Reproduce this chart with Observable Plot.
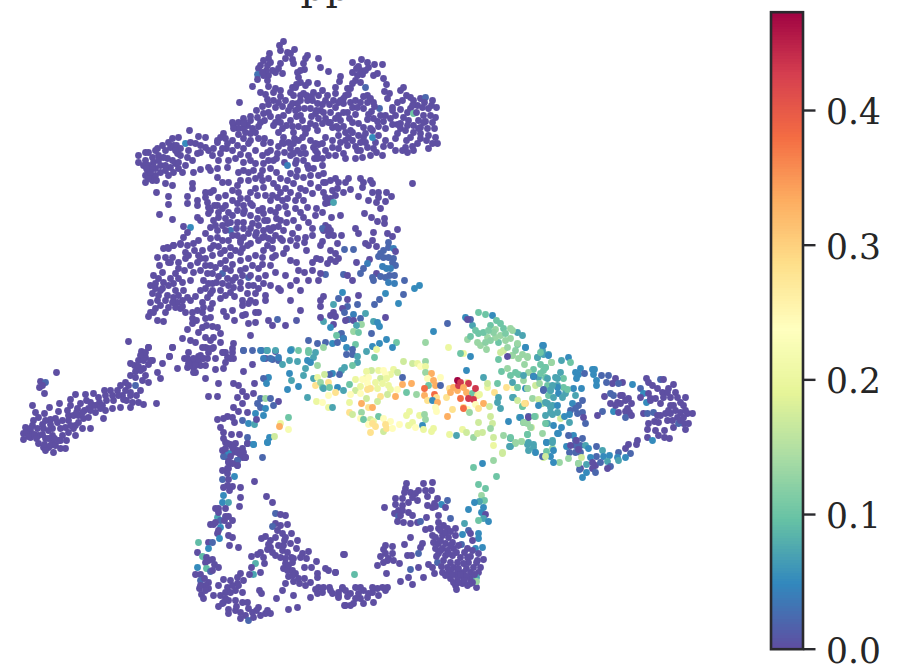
<!DOCTYPE html>
<html><head><meta charset="utf-8">
<script src="https://cdn.jsdelivr.net/npm/d3@7"></script>
<script src="https://cdn.jsdelivr.net/npm/@observablehq/plot@0.6"></script>
<style>html,body{margin:0;padding:0;background:#fff}#c{position:relative;width:901px;height:670px;overflow:hidden}</style>
</head><body><div id="c"></div>
<script>
// Each embedding point: [x, y, expression]; a missing third value is 0.
const topLobe=[[283,41],[279,45],[280,50],[287,52],[294,49],[290,53],[292,59],[293,63],[269,53],[268,58],[263,60],[260,65],[258,68],[267,65],[280,63],[278,68],[275,72],[282,73],[268,75],[263,75],[257,74,.03],[257,79],[267,80],[268,86],[252,86],[275,88],[280,90],[273,92],[260,92],[265,94],[267,99],[273,100],[280,96],[239,102],[307,55],[305,58],[303,63],[304,69],[318,58],[320,67],[328,71],[297,72],[298,77],[300,82],[308,82],[305,85],[317,83],[292,87],[295,87],[303,93],[293,95],[313,92],[322,90],[327,95],[335,87],[335,93],[340,76],[339,81],[352,62],[361,59],[367,62],[374,64],[382,64],[368,67],[360,70],[357,75],[355,80],[360,82],[352,83],[373,75],[377,73],[383,78],[386,84],[365,87,.02],[347,88],[345,95],[343,98],[367,95],[363,96],[384,91],[389,93],[403,87],[400,90],[387,98],[397,102],[406,95],[410,97],[413,100],[420,98],[425,97,.02],[432,100],[436,107],[417,105],[410,108],[422,107],[428,108],[400,109],[407,112],[423,115],[430,115],[435,117],[403,117],[400,123],[397,124],[392,124],[408,120],[418,120],[432,122],[420,127],[427,128],[400,128],[397,133],[405,130],[413,132],[420,133],[428,135],[435,137],[437,143],[432,143],[428,148],[420,138],[417,143],[412,146],[405,147],[402,150],[407,152],[413,150],[390,145],[395,150],[385,140],[375,142],[373,148],[413,113,.1],[300,100],[307,100],[312,100],[317,103],[297,103],[292,103],[320,110],[325,118],[333,100],[338,102],[335,107],[343,103],[350,102],[352,107],[347,112],[357,107],[363,108],[371,111],[379,108,.02],[367,102],[373,102],[392,107],[392,110],[282,106],[275,107],[288,110],[295,110],[300,115],[302,120],[315,113],[318,118],[268,112],[263,113],[283,115],[278,117],[275,122],[273,125],[286,125],[282,128],[278,132],[257,117],[260,122],[243,118],[250,120],[247,125],[233,125],[238,128],[243,128],[250,133],[255,132],[233,128],[223,133],[220,137],[225,138],[217,142],[310,123],[315,125],[307,128],[305,133],[302,137],[322,123],[328,122],[332,127],[317,130],[293,132],[283,137],[294,138],[288,142],[282,142],[338,115],[340,120],[343,126],[350,130],[358,123],[363,127],[367,119],[377,121],[383,121],[378,126],[372,130],[372,137,.05],[363,137],[360,142],[338,135],[332,140],[325,137],[318,144],[310,140],[313,147],[303,147],[298,140],[293,143],[290,148],[340,142],[345,140],[348,137],[352,132],[347,145],[338,148],[332,147],[325,150],[317,153],[367,147],[357,150],[360,150],[343,153]];
const topFill=[[272,70],[270,62],[285,58],[266,70],[262,72],[300,70],[296,84],[290,92],[300,95],[306,95],[311,96],[318,95],[325,100],[329,104],[322,104],[316,110],[310,108],[304,108],[298,108],[290,106],[285,100],[278,102],[268,104],[262,106],[256,110],[250,116],[244,122],[238,122],[232,122],[238,134],[245,132],[252,128],[258,126],[264,120],[270,116],[280,122],[290,120],[296,116],[292,126],[298,126],[304,128],[311,116],[323,112],[330,112],[335,118],[330,122],[336,126],[343,112],[349,118],[355,114],[352,122],[345,132],[338,128],[358,66],[362,74],[365,70],[356,68],[352,72],[350,88],[348,94],[340,100],[355,100],[360,102],[370,98],[374,106],[380,115],[368,114],[373,118],[385,115],[395,115],[390,118],[402,100],[412,105],[416,112],[424,102],[431,105],[425,121],[413,125],[407,125],[423,122],[434,128],[426,140],[418,128],[410,137],[406,140],[395,138],[385,128],[378,135],[370,128],[365,133],[358,135],[352,140],[355,146],[365,142],[383,146],[376,152],[382,155],[370,155],[362,157],[355,158],[345,158],[335,155],[328,155],[322,158],[314,158],[305,153],[297,150],[290,155],[284,152],[278,146],[270,142],[264,138],[258,138],[250,140],[243,138],[232,140],[226,148],[232,150],[240,154],[248,155],[255,150],[262,155],[270,150],[276,158],[284,162],[296,160],[307,165],[315,150]];
const leftLobe=[[138,155],[145,152],[148,152],[138,162],[145,160],[152,157],[157,148],[162,145],[165,150],[172,138],[178,137],[170,147],[173,145],[158,155],[153,162],[155,168],[147,170],[145,175],[150,175],[152,180],[145,182],[155,175],[156,192],[165,183],[172,185],[168,175],[172,160],[167,158],[163,157],[177,153],[180,155],[170,167],[175,163],[178,162],[178,168],[185,165],[193,172],[200,169],[189,130],[198,136],[205,137],[185,143,.05],[190,142],[195,143],[200,152],[205,147],[208,150],[197,153],[187,157],[192,160],[192,183],[192,188],[205,192],[205,197],[187,196],[187,203],[197,200],[197,205],[168,196],[168,204],[159,214],[172,219],[183,226],[190,227,.05],[187,232],[183,237],[197,217],[200,220],[198,240],[193,243],[187,245],[180,243],[173,245],[167,247],[208,207],[208,213],[210,192],[207,202],[213,190],[218,197],[225,195],[217,205],[222,208],[218,217],[225,218],[213,220],[210,227],[217,230],[227,223],[205,233],[210,238],[217,237],[222,240],[230,230,.03],[232,235],[237,235],[243,237],[248,233],[240,242],[250,243],[262,237],[255,235],[272,240],[275,235],[280,238],[270,230],[263,230],[258,225],[252,223],[243,222],[237,222],[232,215],[237,210],[243,213],[250,215],[257,218],[263,213],[270,210],[243,205],[237,203],[247,198],[232,200],[250,203],[262,208],[278,207],[282,200],[277,197],[272,195],[263,187],[257,195],[238,192],[237,185],[228,182],[222,182],[217,177],[238,172],[243,170],[248,172],[253,170],[260,175],[263,163],[268,160],[255,163],[273,160],[287,165,.04],[277,187],[273,183],[280,178],[287,180],[293,183],[290,173],[297,170],[303,177],[310,183],[298,195],[303,200],[312,193],[318,187],[325,182],[313,168],[322,165],[317,158],[303,160],[300,153],[293,153],[315,143],[322,143],[283,143],[277,153],[267,152],[263,143],[248,143],[243,148],[237,145],[227,143],[217,140],[222,148],[220,153],[213,148],[208,167],[210,170],[217,168],[227,167],[243,123],[280,220],[287,213],[293,220],[303,217],[298,227],[305,237],[312,235],[322,228,.02],[327,230],[287,198],[295,200],[307,207],[267,220],[273,227],[283,230],[292,233],[297,238]];
const leftFill=[[143,165],[148,165],[152,168],[148,178],[156,180],[160,165],[160,172],[165,165],[150,172],[146,168],[155,150],[168,142],[176,145],[180,148],[175,150],[158,160],[165,170],[173,172],[182,172],[188,150],[200,145],[212,155],[218,160],[228,160],[235,158],[243,162],[250,160],[262,170],[270,168],[276,172],[268,178],[262,180],[255,178],[248,180],[240,180],[232,190],[225,205],[228,212],[218,212],[214,205],[210,210],[225,230],[236,228],[243,228],[250,228],[256,232],[264,220],[258,210],[252,205],[244,210],[230,222],[222,225],[215,225],[240,198],[250,192],[255,188],[265,195],[270,200],[280,192],[285,188],[290,192],[300,188],[305,190],[296,176],[310,175],[318,175],[308,168],[295,163],[275,212],[285,206],[295,208],[300,212],[286,222],[276,218],[268,228],[278,226],[264,236],[272,248],[282,240],[290,240],[286,248],[296,245],[304,242],[312,228],[315,215],[308,222],[316,208],[322,212]];
const midBody=[[163,248],[168,248],[173,245],[180,244],[157,257],[159,265],[165,257],[172,257],[178,262],[185,252],[185,258],[197,262],[198,255],[202,250],[212,255],[205,265],[210,265],[215,267],[220,263],[225,260],[230,255],[230,247],[220,253],[240,260],[242,248],[247,245],[255,255],[262,257],[263,250],[270,265],[272,257],[275,255],[267,245],[200,270],[193,272],[207,273],[212,273],[203,280],[208,283],[222,273,.02],[230,270],[245,268],[258,268],[265,275],[248,277,.02],[242,275],[235,277],[227,278],[222,283],[212,283],[228,285],[233,287],[240,288],[248,285],[253,285],[258,288],[263,283],[265,295],[265,300],[255,293],[247,293],[230,292],[225,295],[220,298],[210,293],[207,297],[202,302],[212,303],[203,307],[197,310],[192,312],[192,318],[192,323],[187,329],[182,338],[190,340],[195,342],[202,327],[210,317],[212,326],[217,327],[205,337],[213,337],[220,333],[210,340],[202,347],[208,348],[220,342],[213,347],[232,348],[225,352],[230,358],[232,310],[223,311],[226,316],[234,320],[242,315],[245,314],[242,305],[248,303],[255,312],[258,312],[255,322],[248,323],[250,335],[268,320],[277,319,.02],[153,275],[158,278],[150,285],[155,283],[163,282],[162,288],[152,293],[158,295],[157,300],[150,302],[167,295],[168,307],[150,312],[153,312],[148,316],[157,320],[163,321],[175,273],[178,278],[182,282],[173,283],[175,290],[183,290],[190,280],[187,297],[182,300],[177,302],[180,308],[175,307],[173,297],[148,347],[145,352],[140,355],[143,360],[150,360],[172,347],[169,356],[187,358],[193,358],[198,362],[188,363],[195,365],[203,358],[205,365],[222,352],[243,350,.02],[252,350,.02],[260,350,.04],[267,350,.07],[275,350,.07],[263,358,.04],[270,358,.03],[278,357,.04],[290,350,.05],[308,352,.1],[296,320,.01],[300,310],[285,325],[272,325],[290,300],[280,290],[300,290],[312,270],[308,280],[285,275],[296,262],[306,250],[320,245],[316,258]];
const midFill=[[200,258],[205,258],[210,248],[218,246],[224,250],[235,250],[240,252],[225,268],[232,264],[240,270],[248,258],[252,265],[262,264],[250,275],[258,278],[240,282],[232,280],[218,276],[216,282],[205,288],[212,290],[220,290],[234,296],[242,300],[250,300],[255,302],[200,290],[195,296],[190,300],[202,312],[210,308],[205,318],[196,320],[198,332],[206,325],[168,262],[162,272],[170,278],[168,285],[160,290],[155,288],[165,300],[172,302],[178,295],[182,306],[185,312],[160,305],[155,308],[165,312],[170,262],[184,270],[178,268],[190,265],[258,240],[268,238],[240,240],[228,240],[213,245],[194,250],[188,255],[296,280],[304,272],[312,262],[318,280],[298,270],[290,260],[283,253],[275,272],[278,288],[270,285],[290,285]];
const upperRight=[[323,173],[323,182],[330,180],[335,178],[338,182],[345,182],[348,178],[360,178],[363,182],[370,180],[372,183],[362,187],[412,183],[323,192],[332,190],[337,188],[343,192],[350,189],[335,195],[325,197],[330,198],[325,203],[328,202],[333,202,.07],[358,196],[372,192],[378,192],[386,192],[391,196],[378,197],[368,200],[376,202],[385,201],[380,208],[364,213],[371,217],[377,221],[384,218],[384,223],[331,217],[340,215],[325,225],[328,227],[323,230],[330,230],[328,235],[333,235],[341,235],[355,228],[358,233],[373,232],[397,229],[387,233],[392,236],[337,243],[322,241],[365,243],[372,240],[368,245],[376,246],[388,242,.02],[388,247,.02],[393,248,.04],[383,250,.02],[395,251],[330,250],[335,253],[344,249,.02],[353,249,.02],[380,253,.02],[378,256,.02],[383,257,.02],[388,257,.02],[393,258,.02],[392,262,.02],[330,259],[338,258],[335,261],[327,263],[320,259],[369,259],[367,263,.04],[356,262],[395,265,.02],[363,268,.02],[382,266,.04],[386,268,.04],[390,268,.04],[360,273,.02],[376,273],[389,275,.02],[394,275,.02],[380,276,.02],[385,277,.02],[372,277,.02],[373,280,.02],[388,282,.04],[394,283,.04],[404,280,.02],[419,285,.05],[414,288,.05],[403,294,.02],[385,293,.05],[379,299,.02],[374,304,.02],[398,303,.05],[325,274,.02],[320,273],[343,274,.02],[347,275],[352,280],[358,295],[342,292,.05],[338,298,.02],[347,299],[323,296],[320,300],[357,304,.02],[333,304,.07],[347,306,.02],[342,308],[320,306],[333,312],[330,315],[344,312,.02],[353,314,.04],[365,313,.07],[360,318,.02],[348,319,.02],[353,320],[345,320],[335,316],[373,321,.07],[385,317],[377,322,.05],[379,326,.05],[333,324],[330,327,.05],[323,321,.07],[320,317],[361,324,.13],[356,325,.07],[353,331,.13],[358,332,.1],[371,333,.02],[341,333,.02],[336,335,.1],[343,338,.04]];
const centre=[[425,342,.13],[448,347,.2],[433,331,.05],[447,323,.02],[396,342,.1],[392,347,.05],[386,339,.05],[379,343,.05],[372,346,.05],[376,349,.2],[366,351,.07],[374,357,.1],[355,344,.1],[346,347,.05],[352,349,.02],[352,354,.02],[346,354,.02],[357,356,.07],[357,362,.07],[352,365,.1],[344,367,.07],[341,370,.07],[339,374,.02],[332,373,.05],[329,374,.02],[332,343,.05],[337,342,.02],[340,334,.02],[343,338,.02],[325,342,.02],[317,343,.02],[308,340,.02],[308,350,.1],[315,352,.07],[313,357,.07],[307,360,.05],[310,362,.05],[305,368,.07],[317,365,.13],[323,347,.13],[303,375,.07],[313,378,.07],[324,374,.17],[317,377,.2],[315,385,.28],[320,382,.13],[322,387,.1],[323,388,.07],[328,382,.28],[329,387,.1],[328,395,.24],[337,387,.05],[343,390,.07],[335,392,.28],[307,397,.07],[316,401,.2],[322,402,.24],[328,407,.2],[332,407,.07],[349,384,.1],[355,379,.2],[365,378,.2],[371,370,.17],[366,371,.2],[378,370,.2],[383,370,.24],[393,369,.2],[397,372,.17],[403,361,.17],[412,363,.17],[417,363,.2],[420,366,.24],[425,361,.13],[425,366,.2],[425,372,.13],[402,377,.02],[390,374,.2],[385,374,.24],[380,378,.17],[375,382,.2],[386,378,.2],[368,377,.24],[362,379,.24],[355,390,.17],[360,386,.2],[350,394,.24],[367,383,.24],[370,388,.28],[367,389,.28],[377,388,.2],[382,383,.2],[388,385,.2],[390,389,.2],[397,389,.24],[360,393,.24],[366,398,.17],[380,396,.28],[387,394,.17],[395,396,.33],[402,384,.33],[406,392,.1],[411,383,.33],[416,394,.13],[377,401,.17],[349,402,.2],[361,403,.33],[368,407,.28],[372,407,.33],[349,412,.28],[352,414,.17],[361,412,.13],[360,418,.24],[363,419,.1],[370,419,.17],[378,416,.1],[373,421,.2],[383,418,.24],[390,421,.24],[368,424,.24],[375,426,.28],[372,423,.28],[385,424,.28],[383,431,.17],[386,428,.28],[370,432,.28],[392,428,.24],[399,424,.24],[406,415,.2],[409,411,.2],[408,425,.2],[412,422,.2],[419,415,.2],[424,414,.13],[425,419,.13],[422,425,.05],[415,427,.24],[423,429,.2],[431,431,.2],[433,428,.2],[449,434,.2],[456,435,.07],[462,429,.2],[466,432,.17],[473,437,.13],[431,373,.33],[427,378,.24],[433,380,.33],[440,377,.24],[428,385,.1],[424,388,.38],[435,385,.33],[440,385,.02],[424,395,.33],[427,400,.28],[434,394,.38],[436,397,.28],[432,400,.05],[437,402,.33],[435,407,.24],[436,411,.24],[447,416,.33],[452,409,.28],[446,397,.28],[449,388,.28],[453,387,.33],[450,392,.33],[457,390,.33],[458,385,.43],[457,380,.47],[460,382,.43],[467,382,.2],[468,383,.43],[463,387,.33],[466,392,.33],[460,398,.38],[472,393,.1],[475,388,.43],[477,395,.28],[468,398,.43],[473,399,.43],[479,394,.2],[475,404,.24],[483,403,.33],[463,407,.28],[467,409,.24],[463,408,.38],[478,408,.28],[469,412,.13],[489,406,.17],[487,387,.2],[487,383,.17],[483,377,.07],[466,370,.05],[463,353,.2],[460,353,.1],[470,356,.05],[497,383,.1],[494,392,.28],[506,387,.28],[513,387,.24],[517,387,.1],[527,388,.13],[512,382,.07],[510,375,.1],[501,371,.1],[507,368,.13],[518,374,.1],[523,375,.07],[533,376,.05],[540,373,.1],[545,367,.1],[551,362,.13],[537,357,.07],[540,352,.1],[548,355,.05],[543,345,.05],[527,356,.13],[518,358,.13],[512,355,.13],[507,356],[500,352,.17],[503,350,.17],[498,359,.1],[486,349,.13],[525,347,.05],[517,343,.13],[510,338,.13],[507,347,.13],[498,342,.1],[487,337,.13],[477,342,.13],[467,339,.13],[470,336,.1],[478,333,.1],[483,332,.1],[490,325,.1],[495,329,.13],[500,335,.13],[503,328,.1],[510,328,.13],[517,332,.07],[522,335,.07],[500,323,.1],[492,315,.05],[485,314,.1],[478,312,.1],[472,325,.07],[470,319,.02],[465,317,.05],[467,319],[490,416,.17],[492,423,.17],[478,422,.17],[482,432,.17],[477,433,.17],[490,428,.13],[493,437,.17],[493,445,.2],[502,452,.17],[508,421,.05],[500,408,.07],[497,402,.07],[498,397,.07],[512,397,.07],[517,400,.17],[522,406,.1],[524,403,.28],[520,417,.05],[528,417],[534,416,.1],[523,422,.13],[530,427,.13],[527,434,.1],[503,435,.13],[510,437,.1],[515,442,.13],[509,446,.07],[521,441,.13],[528,442,.07],[533,447,.07],[535,452,.05],[545,456,.17],[546,442,.05],[552,442,.07],[553,450,.05],[558,433,.05],[545,423,.1],[538,405,.05],[545,402,.07],[550,407,.07],[557,405,.05],[543,389,.02],[550,390,.07],[557,387,.05],[547,378,.07],[557,378,.07],[552,385,.07],[512,330,.13],[495,337,.13],[490,340,.12],[480,345,.13],[485,342,.12],[505,340,.13],[515,350,.12],[493,332,.12],[505,333,.11],[475,330,.1],[496,320,.1],[488,330,.11]];
const rightWing=[[517,344,.1],[525,347,.07],[542,345,.05],[542,350,.07],[548,354,.07],[543,354,.07],[522,354,.13],[527,357,.13],[512,355,.17],[537,357,.1],[568,357,.05],[561,360,.07],[570,362,.1],[524,364,.13],[540,364,.1],[545,367,.1],[551,362,.13],[560,372,.07],[543,370,.1],[533,369,.1],[528,372,.13],[575,372,.05],[580,368,.05],[578,374,.05],[584,373,.02],[592,369,.05],[594,369,.05],[593,374,.05],[601,375,.02],[608,375,.02],[615,378],[612,383],[606,382,.02],[622,382],[618,383,.02],[632,384,.05],[596,380,.05],[596,385,.05],[576,378,.05],[563,378,.1],[555,377,.07],[545,377,.1],[538,377,.07],[533,376],[523,380,.13],[515,372,.1],[517,387,.13],[525,388,.05],[527,388,.13],[535,385,.17],[539,383,.13],[547,385,.1],[543,390,.02],[550,390,.07],[557,385,.07],[563,387,.1],[558,393,.05],[565,393,.07],[573,388,.05],[581,388,.05],[567,389,.1],[575,395,.07],[548,395,.1],[553,397,.07],[562,397,.07],[532,398,.13],[538,399,.17],[542,403,.13],[513,397,.07],[525,403,.3],[522,406,.13],[547,403,.07],[552,405,.07],[572,403,.05],[582,400,.02],[578,405,.02],[575,408,.02],[570,410,.02],[582,412,.02],[577,413,.02],[583,417],[585,423,.02],[604,396],[610,393,.02],[613,395,.02],[610,403],[617,402],[620,403],[622,395],[628,398],[625,400],[631,403],[627,408],[613,411,.05],[618,412],[625,411],[629,412],[625,417,.02],[631,415],[602,411,.02],[597,415],[646,378],[648,382],[640,388,.02],[652,385],[660,379,.02],[663,379],[673,384],[668,388],[643,393,.05],[648,393],[640,397],[646,402,.05],[650,398],[657,388],[662,392],[667,392],[675,392],[663,397],[660,403],[670,397],[677,397],[685,397],[673,405],[680,402],[683,405],[643,413],[647,413,.02],[653,412,.02],[657,415],[665,413],[670,413],[680,412],[687,413],[692,413],[683,417],[677,417],[654,421],[658,422],[667,420],[648,423],[647,429],[673,427],[683,423],[688,423],[685,429],[678,423,.02],[658,435],[664,437],[669,438],[647,437],[652,440,.05],[637,440],[636,444],[628,444],[625,448],[630,453,.02],[625,457,.05],[618,452,.02],[617,457,.05],[618,460,.07],[609,455,.05],[602,450,.07],[603,456,.05],[607,461,.07],[596,456,.02],[596,446,.02],[590,457,.05],[610,466,.02],[607,468],[595,465],[592,468],[595,472,.02],[586,464,.07],[578,463,.1],[580,468],[586,472,.05],[579,469,.02],[582,477,.05],[573,435,.05],[568,435,.02],[575,440,.02],[582,438,.02],[566,446,.05],[575,445,.02],[580,445,.02],[585,445,.07],[588,448,.05],[569,452,.02],[575,452,.02],[580,452,.02],[581,457,.17],[578,463,.13],[568,458,.13],[559,462,.13],[553,462,.05],[550,456,.05],[543,457,.17],[542,456,.02],[546,451,.1],[552,448,.13],[546,442,.05],[552,440,.07],[557,433,.05],[561,427,.05],[553,425,.05],[542,433,.13],[547,423,.07],[552,414,.07],[560,418,.17],[569,422,.07],[569,414,.05],[564,416,.05],[557,412,.07],[550,412,.07],[545,415,.07],[535,416,.13],[528,416,.02],[519,417,.07],[523,422,.07],[527,423,.13],[531,427,.17],[527,434,.1],[521,441,.17],[515,443,.13],[527,444,.07],[533,444,.07],[528,450,.07],[535,452,.13],[510,438,.07],[510,446,.07],[650,400],[655,398],[670,405],[668,410],[675,410],[685,410],[680,420],[660,415],[672,420],[664,430],[655,430],[620,395],[615,405],[592,462],[600,462,.02],[576,440],[570,445],[578,449]];
const leftTail=[[56,372],[40,381],[45,382,.02],[39,387],[44,393],[42,385],[32,405],[35,412],[44,413],[49,407],[59,403],[70,399],[75,394],[85,394],[93,393],[104,390],[110,390],[117,390],[122,395],[80,403],[90,402],[98,397],[99,402],[92,405],[88,408],[77,408],[67,410],[58,411],[55,418],[50,419],[45,420],[38,417],[33,420],[32,425],[25,427],[23,433],[23,439],[30,431],[30,437],[37,428],[43,428],[38,435],[45,438],[52,428],[52,435],[60,428],[65,427],[62,435],[68,432],[73,428],[82,428],[90,428],[75,435],[38,443],[43,447],[48,447],[53,452],[60,448],[65,448],[60,440],[52,442],[45,450],[68,415],[68,420],[73,415],[78,422],[83,418],[88,417],[95,412],[103,418],[105,410],[112,408],[120,407],[113,400],[120,385],[125,382],[130,375],[135,377],[142,380],[148,382],[135,385,.02],[140,390],[130,392],[130,395],[123,399],[132,402],[138,402],[143,404],[130,407],[156,403],[128,341],[148,347],[141,351],[145,357],[138,360],[130,363],[134,365],[138,366],[143,368],[148,364],[152,360],[162,363],[157,372],[160,378],[169,356],[172,347],[177,368],[184,358],[190,360],[187,367],[193,367],[195,372],[200,365],[207,358],[202,358],[215,369],[223,368],[212,348],[205,347],[223,352],[233,343],[232,352],[227,357],[233,358],[225,362],[243,350,.02],[252,364],[243,371],[261,350,.02],[265,358],[266,350,.07],[275,351],[272,359,.02],[278,360,.02],[282,364,.07],[289,360,.07],[297,361,.07],[298,350,.1],[291,349,.07],[289,373,.05],[291,380,.07],[298,386,.05],[287,389,.05],[205,378],[218,383],[208,396],[217,396],[233,383],[238,385],[254,383],[268,377,.05],[263,378,.02],[266,383,.05],[242,391],[246,396],[253,393],[237,397],[242,403],[260,398,.02],[265,398,.13],[270,398,.02],[278,401],[273,405,.02],[257,403,.02],[260,407,.02],[265,408,.05],[255,413,.05],[263,415,.05],[233,407],[238,411],[247,412],[227,416],[217,419],[223,418],[232,417],[234,422],[242,420,.02],[248,423,.05],[254,424,.07],[256,419],[220,427],[223,432],[231,434],[239,434],[223,438],[225,442],[230,444],[233,447],[247,437,.02],[247,443,.02],[253,444,.05],[237,450],[242,448],[232,452],[225,456,.02],[228,453,.05],[228,462],[237,460,.02],[242,457],[245,457],[262,457,.02],[237,465],[228,468],[267,442,.05],[269,437,.05],[274,436,.17],[280,423,.2],[279,426,.33],[288,429,.22],[288,417,.1],[26,432],[28,436],[34,434],[36,438],[30,428],[42,434],[48,438],[44,444],[50,445],[55,445],[48,430],[42,424],[50,424],[57,422],[62,420],[58,440],[54,438],[66,440],[70,425],[75,425],[78,415],[84,410],[90,410],[95,405],[102,405],[106,400],[100,408],[82,412],[76,412],[70,405],[86,400],[112,395],[105,395],[118,395],[125,390],[128,385],[126,400],[136,395],[140,370],[145,375],[135,371],[190,365],[193,372],[198,356],[188,352],[200,355],[195,360],[208,352],[215,358]];
const bottomLeft=[[227,443],[235,443],[232,447],[247,443],[253,444,.05],[267,442,.05],[227,454,.05],[223,456,.02],[237,452],[243,452],[240,455],[245,457],[228,461],[237,460,.02],[237,465],[227,468],[227,473],[234,476,.05],[222,479,.02],[228,479],[227,485],[223,487],[232,486],[240,487],[254,481],[223,495,.05],[240,497],[222,502,.05],[228,502,.07],[225,508],[218,508],[215,508],[239,506],[266,496],[272,502],[275,513,.02],[280,514],[285,515],[275,523],[287,524],[272,526,.02],[217,517,.07],[225,516],[220,520,.02],[228,525],[232,520],[210,524],[213,524],[220,527,.05],[217,533],[219,538,.05],[228,535],[232,537],[229,545],[238,547],[277,530],[282,533],[291,533],[285,537],[275,537],[270,540],[265,536],[261,538],[297,540],[290,543],[283,545],[270,547],[267,549],[260,552],[257,554],[251,556],[263,557],[264,563],[282,550],[275,555],[280,557],[291,557],[293,558],[285,558],[302,553],[308,551],[306,558],[300,557],[316,561],[285,563],[283,568],[287,570],[292,570],[295,573],[304,567],[311,567],[288,576],[304,578],[325,568],[328,570],[335,572],[317,573],[317,577],[293,581],[299,583],[305,585],[310,582],[318,587],[315,589],[323,587],[329,587],[317,593],[332,593],[338,595],[342,588],[343,554],[285,583],[282,590],[293,595],[310,597],[276,598],[297,607],[288,609],[344,605],[255,563,.08],[251,567],[260,572],[253,574,.07],[249,574],[240,573],[237,577],[243,580],[223,579],[218,585],[227,587],[232,585],[237,583],[225,592],[220,595],[230,592],[242,592],[213,595],[228,600],[223,602],[235,600],[242,602],[247,602],[218,606],[222,603],[228,609],[228,613],[235,610],[240,612],[245,615],[248,620,.02],[253,617],[258,607],[260,615],[265,613],[270,613],[267,610],[259,590],[261,593],[198,542,.09],[208,542],[212,542,.02],[208,548,.05],[197,552],[202,556,.09],[206,557],[212,559],[205,562],[214,564],[218,567],[206,568,.09],[197,567,.05],[210,571,.02],[195,574],[200,574],[200,580,.02],[208,582],[205,585],[199,588],[208,588],[201,594],[205,590],[222,450],[230,456],[225,448],[232,463],[222,470],[229,490],[218,512],[224,520],[215,522],[218,530],[228,516],[280,525],[284,540],[278,545],[272,552],[268,544],[287,552],[296,548],[292,562],[288,565],[292,575],[298,578],[345,590],[347,596],[355,598],[360,598],[372,592],[385,590],[330,590],[322,592],[238,585],[230,580],[235,590],[225,598],[236,606],[252,612],[256,610],[248,608],[208,560],[204,578],[212,570],[200,585],[203,598],[240,618]];
const bottomRight=[[502,453,.17],[493,460,.13],[482,463,.05],[473,467,.1],[496,476,.1],[478,484,.1],[485,488,.1],[481,495,.13],[484,500,.1],[479,501,.07],[474,502,.05],[483,507,.05],[468,509,.05],[481,512,.05],[485,514],[483,518,.07],[478,520,.1],[488,521,.05],[464,523,.07],[406,483],[432,482],[423,483],[431,490],[405,488],[410,492],[418,490],[415,493],[427,496],[437,498],[395,498],[402,498],[408,502],[417,500],[395,504],[384,507],[402,505],[427,505],[434,503],[441,504,.05],[447,500,.02],[445,507],[432,507],[398,510],[394,513],[408,512],[412,515],[398,516,.02],[397,521],[403,522],[410,523],[417,522],[420,521,.02],[426,517],[438,515],[450,518,.02],[438,522],[443,525],[425,529],[430,528],[438,528],[447,528],[455,528],[468,530,.02],[462,534,.05],[470,533],[478,533,.05],[478,538,.05],[472,540],[432,535],[435,537],[442,535],[448,537],[455,535],[433,542],[438,543],[445,543],[452,542],[461,544,.02],[435,548],[442,548],[447,550],[453,548],[467,548],[475,548,.05],[482,547,.05],[438,553],[445,555],[452,555],[460,557],[467,557],[478,553],[483,559],[437,562,.02],[443,560],[450,562],[457,562],[468,562],[477,560],[447,567],[453,567],[463,563],[473,567],[480,567],[442,572],[448,572],[457,572],[463,572],[470,572],[478,572],[450,578],[457,577],[463,578],[470,578],[476,577,.07],[455,585],[462,583],[467,585],[476,587],[476,581,.13],[453,582],[410,537],[404,544],[422,543],[420,547],[418,553,.02],[407,555],[411,555],[399,563],[392,546],[383,549],[380,556],[385,553],[388,558],[393,560],[387,560],[377,565],[383,562],[344,554],[335,572],[354,574,.09],[386,573],[410,569,.02],[418,567],[428,564],[432,567],[434,573],[423,577],[408,577],[412,584],[400,581],[387,587],[382,587],[377,588],[372,587],[363,590],[355,587],[360,587],[342,587],[338,592],[338,597],[350,593],[358,593],[368,593],[378,595],[373,602],[363,603],[353,603],[345,605],[350,605],[367,597],[440,530],[445,532],[450,531],[440,540],[450,545],[458,545],[440,550],[448,553],[456,552],[464,552],[472,550],[436,556],[441,566],[450,570],[458,568],[466,568],[476,562],[470,556],[445,575],[452,574],[460,574],[466,576],[474,574],[458,582],[464,580],[470,583],[456,589],[472,582],[404,492],[412,497],[425,490],[435,506],[400,515],[392,553],[385,545],[402,510]];
const regions=[rightWing,centre,upperRight,leftTail,bottomLeft,bottomRight,topLobe,topFill,leftLobe,leftFill,midBody,midFill];
const tickValues=[0,.1,.2,.3,.4];
const maxValue=.473;
const spectral=["#5e4fa2","#3288bd","#66c2a5","#abdda4","#e6f598","#ffffbf","#fee08b","#fdae61","#f46d43","#d53e4f","#9e0142"];
const titleFragment="pp";

const points=regions.flat().map(d=>({x:d[0],y:d[1],v:d[2]||0}));
const colorScale={type:"linear",domain:spectral.map((_,i)=>i/10*maxValue),range:spectral};
const host=document.getElementById("c");
const layer={position:"absolute",left:"0",top:"0",background:"transparent",overflow:"hidden"};

const scatter=Plot.plot({
  width:901,height:670,margin:0,style:layer,
  x:{domain:[0,901],axis:null},y:{domain:[670,0],axis:null},color:colorScale,
  marks:[
    Plot.dot(points,{x:"x",y:"y",fill:"v",r:3.4,stroke:"none"}),
    Plot.text([titleFragment],{x:[325],y:[-13],text:d=>d,fontFamily:"DejaVu Serif",fontSize:39,fill:"#262626",textAnchor:"middle",lineAnchor:"middle"})
  ]
});
host.appendChild(scatter);

const steps=d3.range(0,maxValue,.002);
const bar=Plot.plot({
  width:901,height:670,marginTop:11.7,marginBottom:21.3,marginLeft:770.5,marginRight:98.5,style:layer,
  x:{domain:[0,1],axis:null},y:{domain:[0,maxValue]},color:colorScale,
  marks:[
    Plot.rect(steps,{x1:0,x2:1,y1:d=>d,y2:d=>Math.min(d+.0025,maxValue),fill:d=>d,shapeRendering:"crispEdges"}),
    Plot.frame({stroke:"#2a2a2e",strokeWidth:2.6}),
    Plot.axisY({anchor:"right",ticks:tickValues,tickFormat:null,tickSize:12,strokeWidth:2.4,stroke:"#2a2a2e",fill:"none",label:null}),
    Plot.axisY({anchor:"right",ticks:tickValues,tickFormat:d3.format(".1f"),tickSize:0,tickPadding:23,dy:2.5,stroke:"none",fill:"#262626",fontSize:34.5,fontFamily:"DejaVu Serif",label:null})
  ]
});
host.appendChild(bar);
</script></body></html>
